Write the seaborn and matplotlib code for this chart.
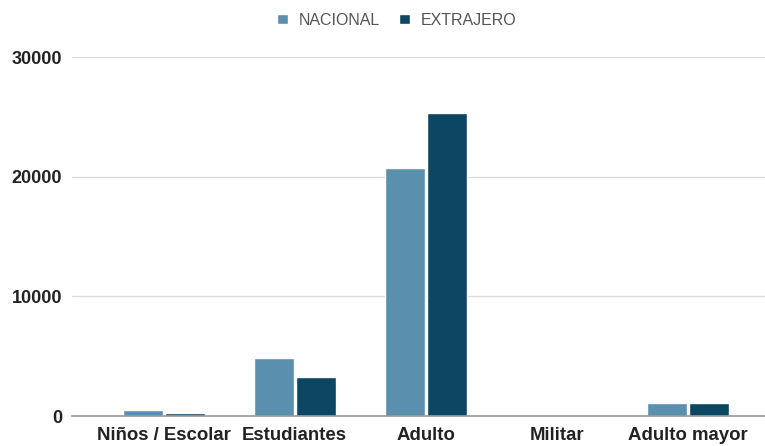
import matplotlib
matplotlib.use("Agg")
import matplotlib.pyplot as plt
import seaborn as sns
import pandas as pd

categories = ["Niños / Escolar", "Estudiantes", "Adulto", "Militar", "Adulto mayor"]
nacional = [500, 4850, 20700, 0, 1100]
extranjero = [250, 3250, 25300, 0, 1100]
series = ["NACIONAL", "EXTRAJERO"]
yticks = [0, 10000, 20000, 30000]

df = pd.DataFrame({
    "cat": categories * 2,
    "serie": [series[0]] * len(categories) + [series[1]] * len(categories),
    "val": nacional + extranjero,
})

sns.set_theme(style="white")
plt.rcParams["font.family"] = ["Liberation Sans", "DejaVu Sans"]

fig = plt.figure(figsize=(7.65, 4.46), dpi=100)
ax = fig.add_axes([0.094, 0.067, 0.906, 0.805])

sns.barplot(data=df, x="cat", y="val", hue="serie", order=categories,
            hue_order=series, palette=["#5b8fae", "#0c4662"], width=0.64,
            gap=0.05, saturation=1, ax=ax, legend=True)

ax.set_ylim(0, 30000)
ax.set_xlim(-0.70, 4.59)
ax.set_yticks(yticks)
ax.set_yticklabels([str(v) for v in yticks], fontsize=13, fontweight="bold", color="#222222")
ax.set_xticks(range(len(categories)))
ax.set_xticklabels(categories, fontsize=13.4, fontweight="bold", color="#222222")
ax.set_xlabel("")
ax.set_ylabel("")
ax.yaxis.grid(True, color="#dcdcdc", linewidth=1)
ax.set_axisbelow(True)
for s in ["top", "right", "left"]:
    ax.spines[s].set_visible(False)
ax.spines["bottom"].set_color("#999999")
ax.spines["bottom"].set_linewidth(1.2)
ax.tick_params(axis="y", length=0, pad=7)
ax.tick_params(axis="x", length=0, pad=8)

handles, labels = ax.get_legend_handles_labels()
ax.get_legend().remove()
leg = fig.legend(handles, labels, loc="center", bbox_to_anchor=(0.519, 0.955), ncol=2,
                 frameon=False, fontsize=11.5, handlelength=0.65, handleheight=0.65,
                 columnspacing=1.2, handletextpad=0.7)
for t in leg.get_texts():
    t.set_color("#555555")

fig.savefig("out.png", dpi=100)
